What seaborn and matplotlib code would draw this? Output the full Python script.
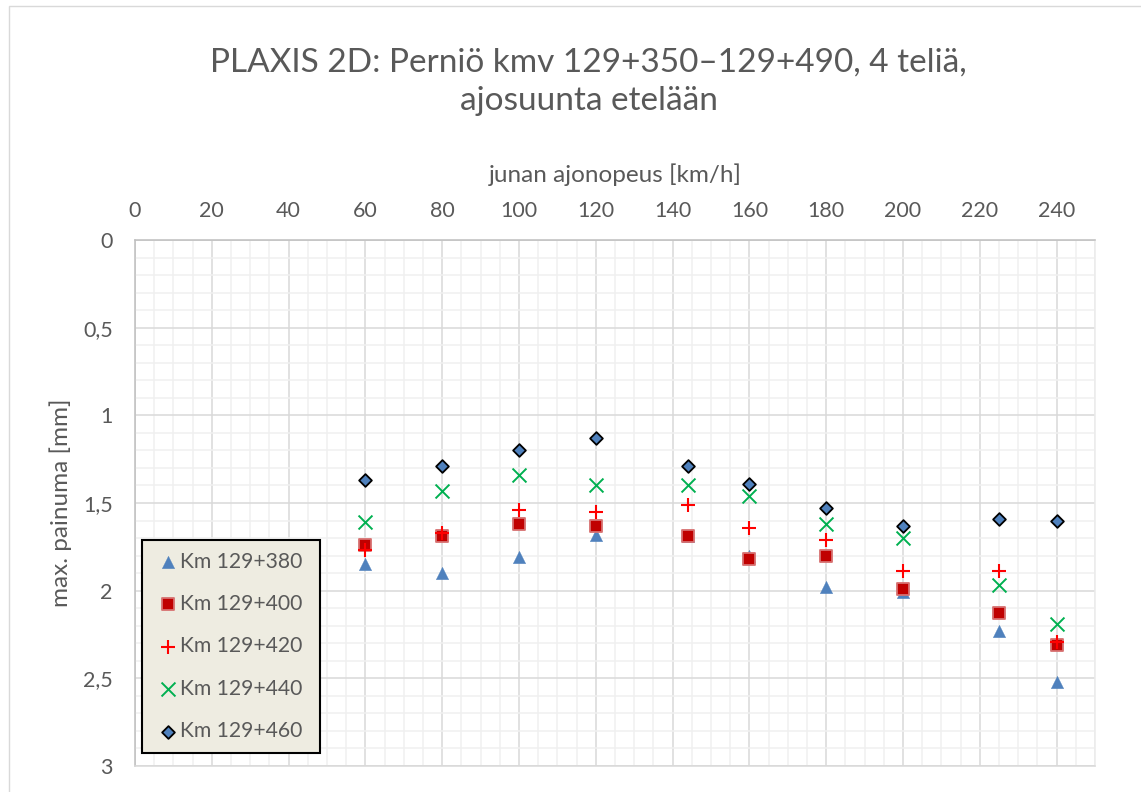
import matplotlib
matplotlib.use("Agg")
import matplotlib.pyplot as plt
from matplotlib.ticker import MultipleLocator, FuncFormatter
from matplotlib.patches import Rectangle
import pandas as pd
import seaborn as sns

# Train speed [km/h]
speeds = [60, 80, 100, 120, 144, 160, 180, 200, 225, 240]

# Maximum settlement [mm] per track section
km_129_380 = [1.85, 1.90, 1.81, 1.68, 1.69, 1.80, 1.98, 2.01, 2.23, 2.52]
km_129_400 = [1.74, 1.69, 1.62, 1.63, 1.69, 1.82, 1.80, 1.99, 2.13, 2.31]
km_129_420 = [1.77, 1.67, 1.54, 1.55, 1.51, 1.64, 1.71, 1.89, 1.89, 2.29]
km_129_440 = [1.61, 1.43, 1.34, 1.40, 1.40, 1.46, 1.62, 1.70, 1.97, 2.19]
km_129_460 = [1.37, 1.29, 1.20, 1.13, 1.29, 1.39, 1.53, 1.63, 1.59, 1.60]

series_labels = ["Km 129+380", "Km 129+400", "Km 129+420", "Km 129+440", "Km 129+460"]
series_values = [km_129_380, km_129_400, km_129_420, km_129_440, km_129_460]

x_ticks = [0, 20, 40, 60, 80, 100, 120, 140, 160, 180, 200, 220, 240]
y_ticks = [0, 0.5, 1, 1.5, 2, 2.5, 3]

title = "PLAXIS 2D: Perniö kmv 129+350–129+490, 4 teliä,\najosuunta etelään"
x_label = "junan ajonopeus [km/h]"
y_label = "max. painuma [mm]"

sns.set_theme(style="white")
plt.rcParams["font.family"] = ["Lato", "DejaVu Sans"]

TEXT = "#595959"
W, H = 1141, 792

marker_styles = [
    dict(marker="^", s=79, color="#4F81BD", edgecolor="#4F81BD", linewidth=0.3),
    dict(marker="s", s=82, color="#C00000", edgecolor="#D77070", linewidth=1.3),
    dict(marker="+", s=100, color="#FF0000", linewidth=1.5),
    dict(marker="x", s=100, color="#00B050", linewidth=1.4),
    dict(marker="D", s=42, color="#4F81BD", edgecolor="black", linewidth=1.3),
]

fig = plt.figure(figsize=(W / 100, H / 100), dpi=100)
fig.patch.set_facecolor("white")

# light chart-area border
fig.patches.append(Rectangle((9 / W, -0.1), 1.2, (H - 6) / H + 0.1,
                             transform=fig.transFigure, fill=False,
                             edgecolor="#D9D9D9", linewidth=1.0))

ax = fig.add_axes([135 / W, 1 - 766 / H, 960 / W, 526 / H])

for label, values, style in zip(series_labels, series_values, marker_styles):
    df = pd.DataFrame({"speed": speeds, "settlement": values})
    sns.scatterplot(data=df, x="speed", y="settlement", ax=ax, label=label,
                    zorder=3, **style)

ax.set_xlim(0, 250)
ax.set_ylim(3, 0)
ax.xaxis.set_major_locator(MultipleLocator(20))
ax.xaxis.set_minor_locator(MultipleLocator(5))
ax.yaxis.set_major_locator(MultipleLocator(0.5))
ax.yaxis.set_minor_locator(MultipleLocator(0.1))
ax.set_xticks(x_ticks)
ax.set_yticks(y_ticks)
ax.yaxis.set_major_formatter(FuncFormatter(lambda v, p: f"{v:g}".replace(".", ",")))

ax.grid(which="major", color="#D9D9D9", linewidth=1.1)
ax.grid(which="minor", color="#F0F0F0", linewidth=1.1)
ax.set_axisbelow(True)

ax.xaxis.tick_top()
ax.xaxis.set_label_position("top")
ax.tick_params(axis="x", which="both", length=0, pad=14, labelsize=15.5, labelcolor=TEXT)
ax.tick_params(axis="y", which="both", length=0, pad=16, labelsize=15.5, labelcolor=TEXT)

ax.set_xlabel(x_label, fontsize=17.5, color=TEXT)
ax.set_ylabel(y_label, fontsize=17.5, color=TEXT)
ax.xaxis.set_label_coords(0.5, 1.11)
ax.yaxis.set_label_coords(-0.066, 0.5)

for side in ["left", "top"]:
    ax.spines[side].set_color("#BFBFBF")
    ax.spines[side].set_linewidth(1.1)
ax.spines["bottom"].set_color("#D9D9D9")
ax.spines["right"].set_color("#EBEBEB")
for side in ["bottom", "right"]:
    ax.spines[side].set_linewidth(1.1)

leg = ax.legend(loc="lower left",
                bbox_to_anchor=(7.3 / 960, 13.3 / 526, 177.7 / 960, 0.6),
                mode="expand", borderaxespad=0, fontsize=15.2,
                labelcolor=TEXT, frameon=True, fancybox=False,
                facecolor="#EEECE1", edgecolor="black", framealpha=1,
                borderpad=0.55, labelspacing=1.06, handlelength=1.3,
                handletextpad=-0.05, scatterpoints=1)
leg.get_frame().set_linewidth(1.5)

fig.text(588.5 / W, 1 - 82 / H, title, ha="center", va="center",
         fontsize=24, color=TEXT, linespacing=1.34)

fig.savefig("out.png", dpi=100)
